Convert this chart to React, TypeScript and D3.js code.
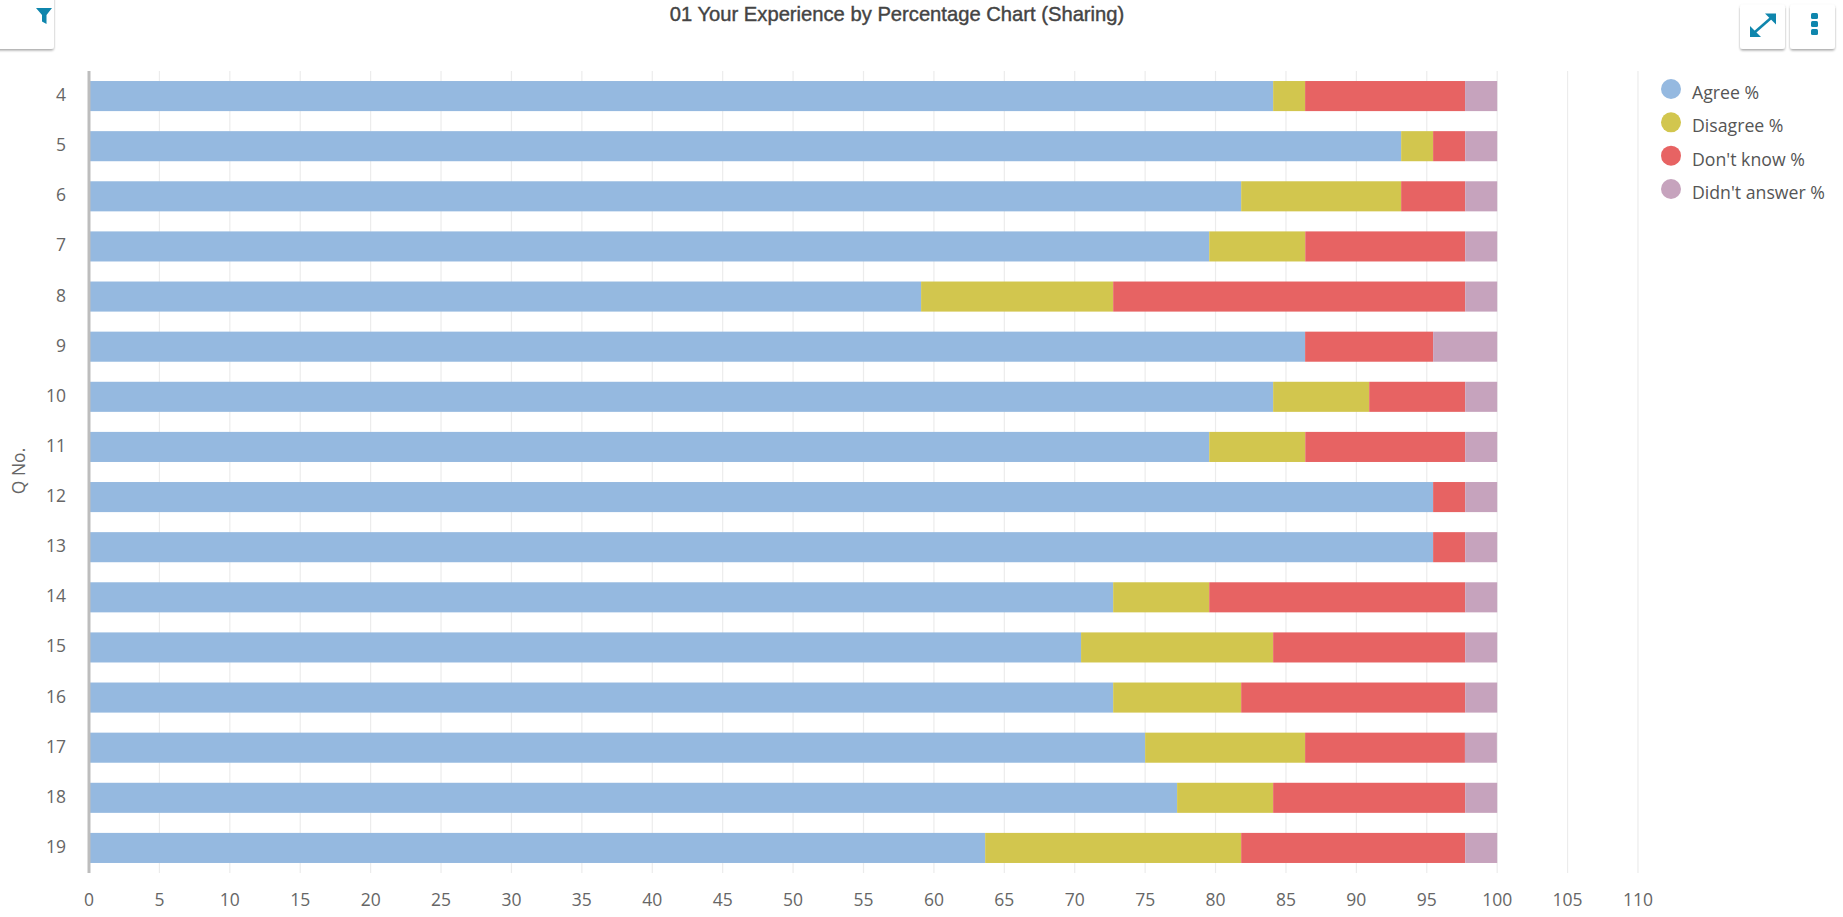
import React from "react";
import * as d3 from "d3";

const W = 1843;
const H = 917;

const questions = ["4","5","6","7","8","9","10","11","12","13","14","15","16","17","18","19"];
const seriesNames = ["Agree %", "Disagree %", "Don't know %", "Didn't answer %"];
const seriesColors = ["#95b9e0", "#d2c64e", "#e76363", "#c6a3bd"];
const agree = [84.09,93.18,81.82,79.55,59.09,86.36,84.09,79.55,95.45,95.45,72.73,70.45,72.73,75,77.27,63.64];
const disagree = [2.27,2.27,11.36,6.82,13.64,0,6.82,6.82,0,0,6.82,13.64,9.09,11.36,6.82,18.18];
const dontKnow = [11.36,2.28,4.55,11.36,25,9.09,6.82,11.36,2.28,2.28,18.18,13.64,15.91,11.35,13.64,15.91];
const noAnswer = [2.28,2.27,2.27,2.27,2.27,4.55,2.27,2.27,2.27,2.27,2.27,2.27,2.27,2.27,2.27,2.27];
const xTicks = d3.range(0, 111, 5);

const rows = questions.map((q, i) => ({
  q,
  [seriesNames[0]]: agree[i],
  [seriesNames[1]]: disagree[i],
  [seriesNames[2]]: dontKnow[i],
  [seriesNames[3]]: noAnswer[i],
}));

const x = d3.scaleLinear().domain([0, 110]).range([89, 1638]);
const y = d3.scaleBand().domain(questions).range([71, 873]).paddingInner(0.4).paddingOuter(0.2);
const stacked = d3.stack<any>().keys(seriesNames)(rows);

const legendY = d3.scalePoint().domain(seriesNames).range([89, 189]);
const labelFont = "'Open Sans', sans-serif";

function IconButton({ bx, w, children }: { bx: number; w: number; children: React.ReactNode }) {
  return (
    <g>
      <rect x={bx} y={4.5} width={w} height={44.5} rx={3} fill="#fff" filter="url(#btnShadow)" />
      {children}
    </g>
  );
}

export default function App() {
  return (
    <svg width={W} height={H} viewBox={`0 0 ${W} ${H}`} style={{ position: "absolute", left: 0, top: 0, display: "block", background: "#fff" }}>
      <defs>
        <filter id="btnShadow" x="-20%" y="-20%" width="140%" height="140%">
          <feDropShadow dx="0" dy="1.5" stdDeviation="1.2" floodColor="#000" floodOpacity="0.35" />
        </filter>
      </defs>

      <rect x={-10} y={-10} width={64} height={59} rx={3} fill="#fff" filter="url(#btnShadow)" />
      <path d="M36 8 H52 L46.5 15 V24 L42 21.5 V15 Z" fill="#0f86ad" />

      <text x={897} y={20.5} textAnchor="middle" fontFamily="'Liberation Sans', Arial, sans-serif" fontSize={20.2} fontWeight={400} fill="#444" stroke="#444" strokeWidth={0.4}>
        01 Your Experience by Percentage Chart (Sharing)
      </text>

      <IconButton bx={1740} w={45}>
        <g stroke="#0f86ad" strokeWidth={2.6} fill="#0f86ad">
          <line x1={1755} y1={32} x2={1771} y2={18} />
          <path d="M1765 13.5 H1776 V24.5 Z" stroke="none" />
          <path d="M1750 26 V37 H1761 Z" stroke="none" />
        </g>
      </IconButton>
      <IconButton bx={1790} w={45}>
        <g fill="#0f86ad">
          <rect x={1811} y={13} width={7} height={6} rx={1.5} />
          <rect x={1811} y={21} width={7} height={6} rx={1.5} />
          <rect x={1811} y={29} width={7} height={6} rx={1.5} />
        </g>
      </IconButton>

      <g>
        {xTicks.map((t) => (
          <line key={t} x1={x(t)} x2={x(t)} y1={71} y2={873} stroke="#ececec" strokeWidth={1.2} />
        ))}
      </g>

      <g>
        {stacked.map((s, si) => (
          <g key={s.key} fill={seriesColors[si]}>
            {s.map((d: any) => (
              <rect
                key={d.data.q}
                x={x(d[0])}
                width={x(d[1]) - x(d[0])}
                y={y(d.data.q)}
                height={y.bandwidth()}
              />
            ))}
          </g>
        ))}
      </g>

      <line x1={x(0)} x2={x(0)} y1={71} y2={873} stroke="#bdbdbd" strokeWidth={3} />

      <g fontFamily={labelFont} fontSize={17.5} fill="#666">
        {questions.map((q) => (
          <text key={q} x={66} y={y(q)! + y.bandwidth() / 2 + 5} textAnchor="end">{q}</text>
        ))}
        {xTicks.map((t) => (
          <text key={t} x={x(t)} y={906} textAnchor="middle">{t}</text>
        ))}
        <text transform="translate(25,471) rotate(-90)" textAnchor="middle" fontSize={17.5}>Q No.</text>
      </g>

      <g fontFamily={labelFont} fontSize={17.7} fill="#555">
        {seriesNames.map((n, i) => (
          <g key={n}>
            <circle cx={1671} cy={legendY(n)} r={10} fill={seriesColors[i]} />
            <text x={1692} y={legendY(n)! + 10}>{n}</text>
          </g>
        ))}
      </g>
    </svg>
  );
}
